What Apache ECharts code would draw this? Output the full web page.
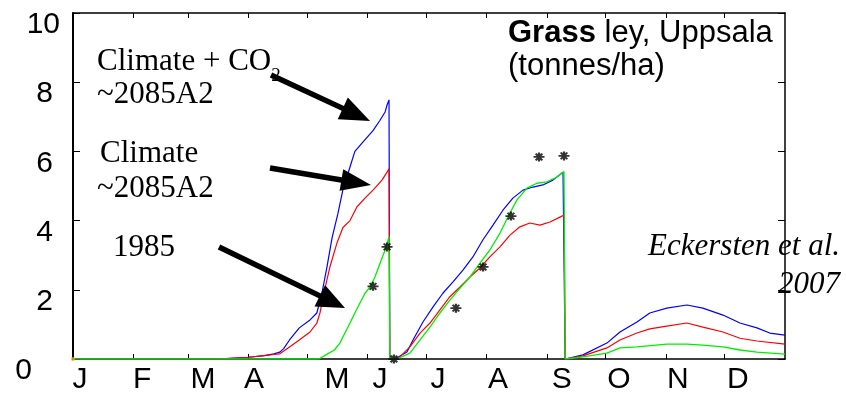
<!DOCTYPE html>
<html><head><meta charset="utf-8">
<script src="https://cdn.jsdelivr.net/npm/echarts@6/dist/echarts.min.js"></script>
<style>html,body{margin:0;padding:0;background:#fff}#c{width:846px;height:395px}</style>
</head><body><div id="c"></div>
<script>
// ---- data (x = day of year, y = tonnes/ha) ----
const monthLabels = ['J','F','M','A','M','J','J','A','S','O','N','D'];
const monthLabelDays = [3.6,35.4,66.6,92.8,135.3,157.4,187.1,217.9,250.6,279.9,310.1,340.8];
const monthStartDays = [31,59,90,120,151,181,212,243,273,304,334];
const yTicks = [0,2,4,6,8,10];

const climateCO2 = [
  [0,0],[74,0],[90,0.05],[98,0.1],[103,0.15],[106,0.2],[108,0.3],[111,0.55],[116,0.9],[121.5,1.13],[125,1.33],
  [127.6,1.9],[130.2,2.66],[132.8,3.5],[135.8,4.2],[138.4,4.9],[142,5.55],[144.5,6.0],[148.6,6.27],[153.8,6.6],
  [157.4,6.9],[160,7.14],[161,7.34],[162,7.49],[162.4,0],
  [165,0],[166,0.03],[171.2,0.2],[174.3,0.55],[179.4,1.07],[184.5,1.5],[189.6,1.9],[194.8,2.23],[199.9,2.57],
  [205,2.95],[210.1,3.44],[215.3,3.87],[220.4,4.3],[225.5,4.65],[230.7,4.88],[235.8,4.97],[240.9,5.03],[246,5.17],
  [251.2,5.4],[252,5.45],[252.3,0],
  [253.2,0],[261.4,0.12],[273.7,0.46],[280.4,0.78],[289.1,1.07],[295.7,1.33],[304.4,1.47],[314.7,1.56],
  [322.9,1.47],[333.2,1.27],[341.9,1.04],[350.6,0.9],[357.2,0.75],[365,0.69]
];
const climate = [
  [0,0],[74,0],[90,0.05],[98,0.1],[103,0.13],[106,0.15],[111,0.35],[116,0.55],[121.5,0.78],[125,1.04],[126.6,1.33],
  [129,2.0],[131.7,2.66],[135.3,3.35],[138.4,3.8],[142,4.0],[145.6,4.4],[149.7,4.65],[153.8,4.88],[158.4,5.17],
  [161,5.4],[162,5.5],[162.4,0],
  [166,0],[167.6,0.06],[172.7,0.35],[177.9,0.75],[183,1.04],[188.1,1.42],[193.2,1.8],[198.4,2.08],[203.5,2.37],
  [208.6,2.63],[213.7,2.95],[218.9,3.24],[224,3.58],[229.1,3.82],[234.2,3.93],[239.4,3.87],[244.5,3.96],
  [249.6,4.1],[251.8,4.16],[252.3,0],
  [253.2,0],[261.4,0.09],[273.7,0.32],[280.4,0.55],[289.1,0.75],[295.7,0.87],[304.4,0.95],[314.7,1.04],
  [322.9,0.92],[333.2,0.78],[341.9,0.6],[350.6,0.52],[365,0.43]
];
const year1985 = [
  [0,0],[126,0],[131.2,0.17],[134,0.26],[136.8,0.46],[139.4,0.75],[142,1.04],[144.5,1.33],[147.1,1.62],
  [149.7,1.9],[152.2,2.08],[154.8,2.37],[157.4,2.77],[160,3.15],[162,3.53],[162.4,0],
  [166,0],[172.7,0.17],[177.9,0.55],[183,0.92],[188.1,1.33],[193.2,1.7],[198.4,2.05],[203.5,2.37],[208.6,2.77],
  [213.7,3.15],[218.9,3.64],[224,4.22],[227.6,4.6],[232.7,4.94],[237.8,5.08],[243,5.12],[248.1,5.26],
  [251.7,5.42],[252.3,0],
  [253.2,0],[261.4,0.06],[273.7,0.17],[280.4,0.32],[289.1,0.35],[304.4,0.43],[314.7,0.43],[322.9,0.4],
  [333.2,0.35],[341.9,0.26],[350.6,0.2],[365,0.14]
];
const observed = [
  [153.8,2.1],[161,3.24],[164.5,0],[196.3,1.47],[210.2,2.66],[224.5,4.13],[238.9,5.84],[251.7,5.87]
];
const startPoint = [[0,0]];

// ---- chart ----
const chart = echarts.init(document.getElementById('c'), null, {renderer:'canvas'});

function monthFmt(v){
  let best = 0, bd = 1e9;
  monthLabelDays.forEach((d,i)=>{ const dd = Math.abs(d - v); if (dd < bd){bd = dd; best = i;} });
  return monthLabels[best];
}
function yFmt(v){
  if (v === yTicks[0]) return '{z|' + v + '}';
  if (v === yTicks[yTicks.length-1]) return '{t|' + v + '}';
  return '{m|' + v + '}';
}

function arrow(x1,y1,x2,y2,L,W){
  const dx = x2-x1, dy = y2-y1, len = Math.hypot(dx,dy), ux = dx/len, uy = dy/len;
  const bx = x2-ux*L, by = y2-uy*L, px = -uy, py = ux;
  return [
    {type:'line', shape:{x1:x1,y1:y1,x2:bx+ux*3,y2:by+uy*3}, style:{stroke:'#000', lineWidth:5.5}, z:50},
    {type:'polygon', shape:{points:[[x2,y2],[bx+px*W,by+py*W],[bx-px*W,by-py*W]]}, style:{fill:'#000'}, z:50}
  ];
}

const serif = '"Liberation Serif","Times New Roman",serif';
const sans = '"Liberation Sans",Arial,sans-serif';

const axisLineStyle = {color:'#000', width:1.5};
const option = {
  backgroundColor:'#fff',
  animation:false,
  grid:{left:73, right:61, top:13, bottom:36, containLabel:false, outerBoundsMode:'none'},
  xAxis:[
    {type:'value', min:0, max:365, position:'bottom',
     axisLine:{show:true, onZero:false, lineStyle:axisLineStyle},
     axisTick:{show:true, inside:true, length:5, customValues:monthStartDays, lineStyle:{color:'#000', width:1}},
     axisLabel:{customValues:monthLabelDays, formatter:monthFmt, fontFamily:sans, fontSize:30, color:'#000', margin:6},
     splitLine:{show:false}},
    {type:'value', min:0, max:365, position:'top',
     axisLine:{show:true, onZero:false, lineStyle:axisLineStyle},
     axisTick:{show:true, inside:true, length:5, customValues:monthStartDays, lineStyle:{color:'#000', width:1}},
     axisLabel:{show:false}, splitLine:{show:false}}
  ],
  yAxis:[
    {type:'value', min:0, max:10, interval:2, position:'left',
     axisLine:{show:true, onZero:false, lineStyle:{color:'#000', width:2}},
     axisTick:{show:true, inside:true, length:7, lineStyle:{color:'#000', width:1}},
     axisLabel:{formatter:yFmt, fontFamily:sans, fontSize:30, color:'#000', margin:13,
       verticalAlign:'middle', padding:[24,0,0,0],
       rich:{
         z:{fontFamily:sans, fontSize:30, color:'#000', padding:[0,28,0,0]},
         m:{fontFamily:sans, fontSize:30, color:'#000', padding:[0,7,0,0]},
         t:{fontFamily:sans, fontSize:30, color:'#000'}
       }},
     splitLine:{show:false}},
    {type:'value', min:0, max:10, interval:2, position:'right',
     axisLine:{show:true, onZero:false, lineStyle:axisLineStyle},
     axisTick:{show:true, inside:true, length:7, lineStyle:{color:'#000', width:1}},
     axisLabel:{show:false}, splitLine:{show:false}}
  ],
  series:[
    {name:'Climate + CO2 ~2085A2', type:'line', data:climateCO2, showSymbol:false, lineStyle:{color:'#0000ff', width:1.2}, itemStyle:{color:'#0000ff'}, z:2},
    {name:'Climate ~2085A2', type:'line', data:climate, showSymbol:false, lineStyle:{color:'#ff0000', width:1.2}, itemStyle:{color:'#ff0000'}, z:3},
    {name:'1985', type:'line', data:year1985, showSymbol:false, lineStyle:{color:'#00ee00', width:1.3}, itemStyle:{color:'#00ee00'}, z:4},
    {name:'Observed', type:'scatter', data:observed, symbol:'path://M0,5L10,5M5,1L5,9M2,2L8,8M8,2L2,8', symbolSize:[11,9],
     itemStyle:{color:'rgba(0,0,0,0)', borderColor:'#000', borderWidth:2}, z:6},
    {name:'start', type:'scatter', data:startPoint, symbol:'circle', symbolSize:4, itemStyle:{color:'#f5a000'}, z:7}
  ],
  graphic:[
    {type:'text', x:97, y:46, z:40, style:{text:'{a|Climate + CO}{b|2}', font:'31px '+serif, fill:'#000', textVerticalAlign:'top',
      rich:{a:{fontFamily:serif, fontSize:31, verticalAlign:'top', lineHeight:36}, b:{fontFamily:serif, fontSize:19, verticalAlign:'bottom', lineHeight:40}}}},
    {type:'text', x:97, y:95, z:40, style:{text:'~2085A2', font:'31px '+serif, fill:'#000', textVerticalAlign:'middle'}},
    {type:'text', x:100, y:154, z:40, style:{text:'Climate', font:'31px '+serif, fill:'#000', textVerticalAlign:'middle'}},
    {type:'text', x:97, y:189, z:40, style:{text:'~2085A2', font:'31px '+serif, fill:'#000', textVerticalAlign:'middle'}},
    {type:'text', x:113, y:248, z:40, style:{text:'1985', font:'31px '+serif, fill:'#000', textVerticalAlign:'middle'}},
    {type:'text', x:508, y:33, z:40, style:{text:'{b|Grass} ley, Uppsala', font:'31px '+sans, fill:'#000', textVerticalAlign:'middle',
      rich:{b:{fontFamily:sans, fontSize:31, fontWeight:'bold'}}}},
    {type:'text', x:508, y:66, z:40, style:{text:'(tonnes/ha)', font:'31px '+sans, fill:'#000', textVerticalAlign:'middle'}},
    {type:'text', x:840, y:247, z:0, style:{text:'Eckersten et al.', font:'italic 31px '+serif, fill:'#000', textAlign:'right', textVerticalAlign:'middle'}},
    {type:'text', x:840, y:285, z:0, style:{text:'2007', font:'italic 31px '+serif, fill:'#000', textAlign:'right', textVerticalAlign:'middle'}}
  ]
    .concat(arrow(271,75,370,121,30,12))
    .concat(arrow(270,168,371,185,30,11))
    .concat(arrow(219,247,345,308,28,12))
};
chart.setOption(option);
</script>
</body></html>
